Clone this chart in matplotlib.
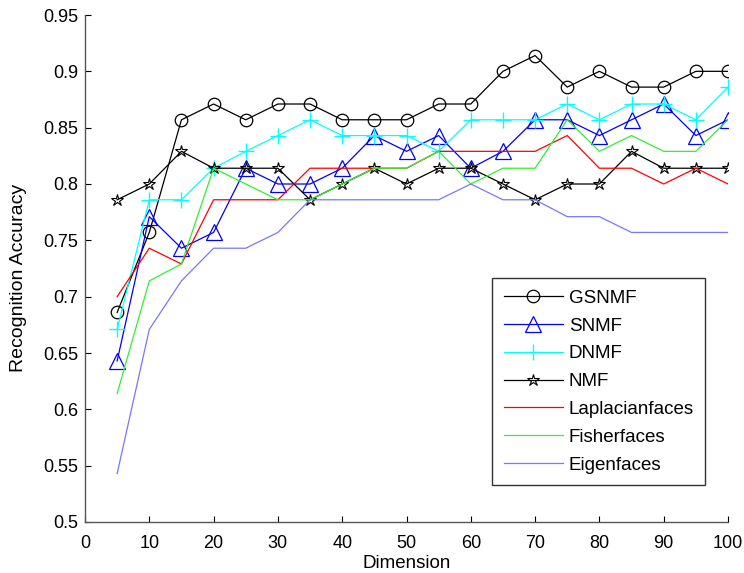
import matplotlib
matplotlib.use("Agg")
import matplotlib.pyplot as plt

plt.rcParams['font.family'] = ['Liberation Sans', 'DejaVu Sans']

dims = [5, 10, 15, 20, 25, 30, 35, 40, 45, 50, 55, 60, 65, 70, 75, 80, 85, 90, 95, 100]

gsnmf = [0.686, 0.757, 0.857, 0.871, 0.857, 0.871, 0.871, 0.857, 0.857, 0.857,
         0.871, 0.871, 0.900, 0.914, 0.886, 0.900, 0.886, 0.886, 0.900, 0.900]
snmf = [0.643, 0.771, 0.743, 0.757, 0.814, 0.800, 0.800, 0.814, 0.843, 0.829,
        0.843, 0.814, 0.829, 0.857, 0.857, 0.843, 0.857, 0.871, 0.843, 0.857]
dnmf = [0.671, 0.786, 0.786, 0.814, 0.829, 0.843, 0.857, 0.843, 0.843, 0.843,
        0.829, 0.857, 0.857, 0.857, 0.871, 0.857, 0.871, 0.871, 0.857, 0.886]
nmf = [0.786, 0.800, 0.829, 0.814, 0.814, 0.814, 0.786, 0.800, 0.814, 0.800,
       0.814, 0.814, 0.800, 0.786, 0.800, 0.800, 0.829, 0.814, 0.814, 0.814]
laplacian = [0.700, 0.743, 0.729, 0.786, 0.786, 0.786, 0.814, 0.814, 0.814, 0.814,
             0.829, 0.829, 0.829, 0.829, 0.843, 0.814, 0.814, 0.800, 0.814, 0.800]
fisher = [0.614, 0.714, 0.729, 0.814, 0.800, 0.786, 0.786, 0.800, 0.814, 0.814,
          0.829, 0.800, 0.814, 0.814, 0.857, 0.829, 0.843, 0.829, 0.829, 0.857]
eigen = [0.543, 0.671, 0.714, 0.743, 0.743, 0.757, 0.786, 0.786, 0.786, 0.786,
         0.786, 0.800, 0.786, 0.786, 0.771, 0.771, 0.757, 0.757, 0.757, 0.757]

xticks = [0, 10, 20, 30, 40, 50, 60, 70, 80, 90, 100]
yticks = [0.5, 0.55, 0.6, 0.65, 0.7, 0.75, 0.8, 0.85, 0.9, 0.95]
ytick_labels = ['0.5', '0.55', '0.6', '0.65', '0.7', '0.75', '0.8', '0.85', '0.9', '0.95']

fig = plt.figure(figsize=(7.44, 5.73), dpi=100)
ax = fig.add_axes([85/744, 1-522/573, (728-85)/744, (522-15)/573])

lw = 0.9
ax.plot(dims, gsnmf, color='k', lw=lw, marker='o', ms=9, mfc='none', mew=0.9, label='GSNMF')
ax.plot(dims, snmf, color='#0000ff', lw=lw, marker='^', ms=11, mfc='none', mew=0.9, label='SNMF')
ax.plot(dims, dnmf, color='#00ffff', lw=lw, marker='+', ms=11, mew=1.0, label='DNMF')
ax.plot(dims, nmf, color='k', lw=lw, marker='*', ms=9, mfc='none', mew=0.8, label='NMF')
ax.plot(dims, laplacian, color='#ff0000', lw=lw, label='Laplacianfaces')
ax.plot(dims, fisher, color='#33ee33', lw=lw, label='Fisherfaces')
ax.plot(dims, eigen, color='#7777ff', lw=lw, label='Eigenfaces')

ax.set_xlim(0, 100)
ax.set_ylim(0.5, 0.95)
ax.set_xticks(xticks)
ax.set_yticks(yticks)
ax.set_yticklabels(ytick_labels)
ax.tick_params(direction='in', length=4, width=0.8, labelsize=13, colors='k')
ax.tick_params(axis='x', pad=9)
ax.tick_params(axis='y', pad=5)
for s in ['top', 'right']:
    ax.spines[s].set_visible(False)
for s in ['left', 'bottom']:
    ax.spines[s].set_color('#555555')
    ax.spines[s].set_linewidth(1.0)

ax.set_xlabel('Dimension', fontsize=13.5)
ax.set_ylabel('Recognition Accuracy', fontsize=14)
ax.xaxis.set_label_coords(0.5, -(564 - 522) / 507, transform=ax.transAxes)
ax.xaxis.label.set_va('center')
ax.yaxis.set_label_coords(-(85 - 19) / 643, (522 - 278) / 507, transform=ax.transAxes)
ax.yaxis.label.set_va('center')

leg = ax.legend(loc='upper left', bbox_to_anchor=((492-85)/643, (522-278)/507),
                fontsize=13.5, frameon=True, fancybox=False, edgecolor='k',
                handlelength=3.15, borderpad=0.62, labelspacing=0.57, borderaxespad=0,
                handletextpad=0.32)
leg.get_frame().set_linewidth(1.0)

fig.savefig('out.png', dpi=100)
